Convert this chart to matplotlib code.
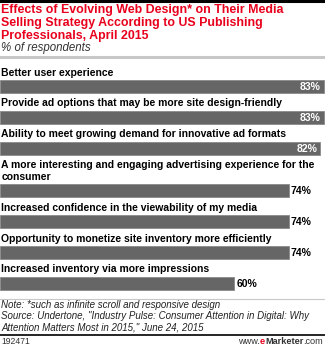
import matplotlib
matplotlib.use("Agg")
import matplotlib.pyplot as plt
from matplotlib.lines import Line2D

categories = [
    "Better user experience",
    "Provide ad options that may be more site design-friendly",
    "Ability to meet growing demand for innovative ad formats",
    "A more interesting and engaging advertising experience for the\nconsumer",
    "Increased confidence in the viewability of my media",
    "Opportunity to monetize site inventory more efficiently",
    "Increased inventory via more impressions",
]
values = [83, 83, 82, 74, 74, 74, 60]

title = ("Effects of Evolving Web Design* on Their Media\n"
         "Selling Strategy According to US Publishing\n"
         "Professionals, April 2015")
subtitle = "% of respondents"
note = ("Note: *such as infinite scroll and responsive design\n"
        "Source: Undertone, \"Industry Pulse: Consumer Attention in Digital: Why\n"
        "Attention Matters Most in 2015,\" June 24, 2015")
chart_id = "192471"

plt.rcParams["font.family"] = ["Liberation Sans", "DejaVu Sans"]

W, H = 325, 346
fig = plt.figure(figsize=(W / 100, H / 100), dpi=100)
fig.patch.set_facecolor("white")

def fy(py):
    return 1 - py / H

def fx(px):
    return px / W

# header rules
fig.add_artist(Line2D([0, 1], [fy(1), fy(1)], color="black", lw=2.2))
fig.add_artist(Line2D([0, 1], [fy(57), fy(57)], color="#c8c8c8", lw=2.2))

fig.text(fx(1), fy(4), title, color="#e8001c", fontsize=8.9, fontweight="bold",
         va="top", ha="left", linespacing=1.1)
fig.text(fx(1), fy(42.5), subtitle, color="#333333", fontsize=8.3, style="italic",
         va="top", ha="left")

# bar area in pixel coordinates on y
ax = fig.add_axes([0, 0, 1, 1])
ax.set_xlim(0, W / 3.905)
ax.set_ylim(H, 0)
ax.axis("off")

bar_h = 13
tops = []
y = 80
for cat in categories:
    extra = 12 * cat.count("\n")
    y_top = y + extra
    tops.append(y_top)
    y = y_top + 30.8

centers = [t + bar_h / 2 for t in tops]
ax.barh(centers, values, height=bar_h, color="#666666", edgecolor="#8a8a8a",
        linewidth=0.6)

for cat, t, c, v in zip(categories, tops, centers, values):
    ax.text(0.3, t - 2.5, cat, fontsize=7.45, fontweight="bold", color="black",
            va="bottom", ha="left", linespacing=1.25)
    if v >= 80:
        ax.text(v - 0.8, c + 0.5, f"{v}%", fontsize=7.5, fontweight="bold",
                color="white", va="center", ha="right")
    else:
        ax.text(v + 0.5, c + 0.5, f"{v}%", fontsize=7.5, fontweight="bold",
                color="black", va="center", ha="left")

# footer
fig.add_artist(Line2D([0, 1], [fy(299), fy(299)], color="#c8c8c8", lw=0.8))
fig.text(fx(1), fy(300.5), note, fontsize=7.0, style="italic", color="#222222",
         va="top", ha="left", linespacing=1.1)
fig.add_artist(Line2D([0, 1], [fy(334.5), fy(334.5)], color="black", lw=1.2))
fig.text(fx(1), fy(337), chart_id, fontsize=6.2, color="#333333",
         va="top", ha="left")

# segmented url, laid out from the right edge
fig.canvas.draw()
r = fig.canvas.get_renderer()
parts = [("www.", "#333333", "normal"), ("e", "#e8001c", "bold"),
         ("Marketer", "#333333", "bold"), (".com", "#333333", "normal")]
segs = [fig.text(0, fy(337), s, fontsize=6.6, color=col, fontweight=wt,
                 va="top", ha="left") for s, col, wt in parts]
widths = [t.get_window_extent(r).width for t in segs]
x = 323 - sum(widths)
for t, w in zip(segs, widths):
    t.set_x(x / W)
    x += w

fig.savefig("out.png", dpi=100, facecolor="white")
